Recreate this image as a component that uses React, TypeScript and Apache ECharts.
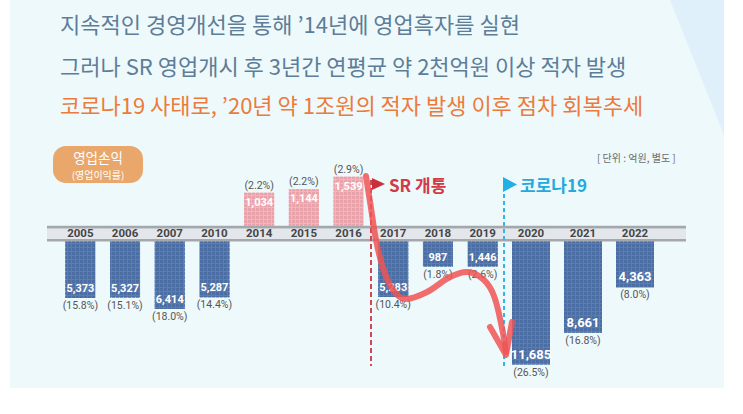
import React, { useEffect, useRef } from "react";
import * as echarts from "echarts";

// ---- data ----
const years = ["2005", "2006", "2007", "2010", "2014", "2015", "2016", "2017", "2018", "2019", "2020", "2021", "2022"];
// operating profit / loss (억원), negative = loss
const profit = [-5373, -5327, -6414, -5287, 1034, 1144, 1539, -5283, -987, -1446, -11685, -8661, -4363];
// operating margin (%)
const marginPct = [-15.8, -15.1, -18.0, -14.4, 2.2, 2.2, 2.9, -10.4, -1.8, -2.6, -26.5, -16.8, -8.0];

const titleLines = [
  "지속적인 경영개선을 통해 ’14년에 영업흑자를 실현",
  "그러나 SR 영업개시 후 3년간 연평균 약 2천억원 이상 적자 발생",
  "코로나19 사태로, ’20년 약 1조원의 적자 발생 이후 점차 회복추세",
];
const legendTitle = "영업손익";
const legendSub = "(영업이익률)";
const unitText = "[ 단위 : 억원, 별도 ]";
const srLabel = "SR 개통";
const covidLabel = "코로나19";

const SPLIT = 10; // first group (narrow columns) vs second group (wide columns)

const KR = "'Noto Sans CJK KR', 'Noto Sans', sans-serif";
const NUM = "Roboto, 'Noto Sans', sans-serif";

const fmtVal = (v: number) => Math.abs(v).toLocaleString("en-US");
const fmtPct = (i: number) => "(" + Math.abs(marginPct[i]).toFixed(1) + "%)";

export default function App() {
  const ref = useRef<HTMLDivElement>(null);

  useEffect(() => {
    if (!ref.current) return;
    const chart = echarts.init(ref.current, undefined, { renderer: "svg" });

    const posData = profit.slice(0, SPLIT).map((v) => (v > 0 ? v : "-"));
    const negL = profit.slice(0, SPLIT).map((v) => (v < 0 ? v : "-"));
    const negR = profit.slice(SPLIT).map((v) => (v < 0 ? v : "-"));

    const blueStyle = {
      color: "#5a7eb4",
      decal: { symbol: "rect", symbolSize: 1, dashArrayX: [3, 1], dashArrayY: [3, 1], color: "#4b6ea5" },
    };
    const pinkStyle = {
      color: "#efb6bc",
      decal: { symbol: "rect", symbolSize: 1, dashArrayX: [3, 1], dashArrayY: [3, 1], color: "#e9a2a9" },
    };

    const valLabel = (pos: string, size: number) => ({
      show: true,
      position: pos,
      distance: 4,
      color: "#ffffff",
      fontFamily: NUM,
      fontWeight: "bold",
      fontSize: size,
      formatter: (p: any) => fmtVal(p.value),
    });
    const pctLabel = (pos: string, offsetIdx: number) => ({
      show: true,
      position: pos,
      distance: 2,
      color: "#555555",
      fontFamily: NUM,
      fontSize: 10.5,
      formatter: (p: any) => fmtPct(p.dataIndex + offsetIdx),
    });

    const axisLabelStyle = {
      margin: 3,
      color: "#454545",
      fontFamily: NUM,
      fontWeight: "bold",
      fontSize: 11.5,
    };

    const option: any = {
      animation: false,
      backgroundColor: "#ffffff",
      grid: [
        { left: 58, top: 176, width: 447, height: 50 },
        { left: 58, top: 241.5, width: 447, height: 130 },
        { left: 505, top: 241.5, width: 156, height: 130 },
      ],
      xAxis: [
        { gridIndex: 0, type: "category", data: years.slice(0, SPLIT), show: false },
        {
          gridIndex: 1,
          type: "category",
          data: years.slice(0, SPLIT),
          position: "top",
          axisLine: { show: false },
          axisTick: { show: false },
          axisLabel: axisLabelStyle,
        },
        {
          gridIndex: 2,
          type: "category",
          data: years.slice(SPLIT),
          position: "top",
          axisLine: { show: false },
          axisTick: { show: false },
          axisLabel: axisLabelStyle,
        },
      ],
      yAxis: [
        { gridIndex: 0, type: "value", min: 0, max: 1560, show: false },
        { gridIndex: 1, type: "value", min: -12350, max: 0, show: false },
        { gridIndex: 2, type: "value", min: -12350, max: 0, show: false },
      ],
      series: [
        {
          type: "bar",
          xAxisIndex: 0,
          yAxisIndex: 0,
          data: posData,
          barWidth: 30,
          barGap: "-100%",
          itemStyle: pinkStyle,
          label: valLabel("insideTop", 11),
          z: 3,
        },
        {
          type: "bar",
          xAxisIndex: 0,
          yAxisIndex: 0,
          data: posData,
          barWidth: 30,
          barGap: "-100%",
          itemStyle: { color: "rgba(0,0,0,0)" },
          label: pctLabel("top", 0),
          z: 4,
        },
        {
          type: "bar",
          xAxisIndex: 1,
          yAxisIndex: 1,
          data: negL,
          barWidth: 30,
          barGap: "-100%",
          barMinHeight: 25,
          itemStyle: blueStyle,
          label: valLabel("insideBottom", 11),
          z: 3,
        },
        {
          type: "bar",
          xAxisIndex: 1,
          yAxisIndex: 1,
          data: negL,
          barWidth: 30,
          barGap: "-100%",
          barMinHeight: 25,
          itemStyle: { color: "rgba(0,0,0,0)" },
          label: pctLabel("bottom", 0),
          z: 4,
        },
        {
          type: "bar",
          xAxisIndex: 2,
          yAxisIndex: 2,
          data: negR,
          barWidth: 38,
          barGap: "-100%",
          itemStyle: blueStyle,
          label: valLabel("insideBottom", 13),
          z: 3,
        },
        {
          type: "bar",
          xAxisIndex: 2,
          yAxisIndex: 2,
          data: negR,
          barWidth: 38,
          barGap: "-100%",
          itemStyle: { color: "rgba(0,0,0,0)" },
          label: pctLabel("bottom", SPLIT),
          z: 4,
        },
      ],
      graphic: [
        // panel background
        { type: "rect", z: -20, shape: { x: 10, y: 0, width: 714, height: 388 }, style: { fill: "#eef9fc" } },
        {
          type: "polygon",
          z: -19,
          shape: { points: [[670, 0], [724, 0], [724, 135]] },
          style: { fill: "#e0f0fa" },
        },
        // axis band
        { type: "rect", z: -5, shape: { x: 47, y: 228.5, width: 639, height: 10.5 }, style: { fill: "#e3e7eb" } },
        { type: "rect", z: -4, shape: { x: 47, y: 225.8, width: 639, height: 2.7 }, style: { fill: "#a4a8ac" } },
        { type: "rect", z: -4, shape: { x: 47, y: 239, width: 639, height: 2.5 }, style: { fill: "#a4a8ac" } },
        // titles
        ...titleLines.map((t, i) => ({
          type: "text",
          x: 60,
          y: [23, 65, 104][i],
          style: {
            text: t,
            fill: i === 2 ? "#ec7b3b" : "#5d7d98",
            fontSize: 22,
            fontFamily: KR,
            align: "left",
            verticalAlign: "middle",
          },
        })),
        // legend badge
        { type: "rect", shape: { x: 53, y: 146, width: 90, height: 37, r: 13 }, style: { fill: "#e9a76c" } },
        {
          type: "text",
          x: 98,
          y: 156.5,
          style: { text: legendTitle, fill: "#ffffff", fontSize: 13.5, fontFamily: KR, align: "center", verticalAlign: "middle" },
        },
        {
          type: "text",
          x: 98,
          y: 174,
          style: { text: legendSub, fill: "#ffffff", fontSize: 10, fontFamily: KR, align: "center", verticalAlign: "middle" },
        },
        // unit
        {
          type: "text",
          x: 597,
          y: 157,
          style: { text: unitText, fill: "#6a6a6a", fontSize: 10, fontFamily: KR, align: "left", verticalAlign: "middle" },
        },
        // SR opening marker
        {
          type: "line",
          z: 10,
          shape: { x1: 371, y1: 180, x2: 371, y2: 366 },
          style: { stroke: "#c94a55", lineWidth: 2, lineDash: [5, 3] },
        },
        { type: "polygon", z: 11, shape: { points: [[372, 178], [385, 184], [372, 190]] }, style: { fill: "#c9303c" } },
        {
          type: "text",
          z: 11,
          x: 389,
          y: 184,
          style: { text: srLabel, fill: "#d23a45", fontSize: 17, fontWeight: "bold", fontFamily: KR, align: "left", verticalAlign: "middle" },
        },
        // COVID marker
        {
          type: "line",
          z: 10,
          shape: { x1: 504, y1: 180, x2: 504, y2: 366 },
          style: { stroke: "#35b6e6", lineWidth: 2, lineDash: [4, 3] },
        },
        { type: "polygon", z: 11, shape: { points: [[503, 177], [517, 184.5], [503, 192]] }, style: { fill: "#1fb0e6" } },
        {
          type: "text",
          z: 11,
          x: 520,
          y: 184,
          style: { text: covidLabel, fill: "#25a9dc", fontSize: 17, fontWeight: "bold", fontFamily: KR, align: "left", verticalAlign: "middle" },
        },
        // trend arrow
        {
          type: "polyline",
          z: 20,
          shape: {
            points: [
              [366, 176],
              [371, 208],
              [376, 240],
              [383, 268],
              [393, 290],
              [405, 299],
              [427, 292],
              [450, 277],
              [468, 272],
              [484, 280],
              [494, 296],
              [502, 328],
              [506, 352],
            ],
            smooth: 0.35,
          },
          style: { stroke: "rgba(240,84,84,0.85)", lineWidth: 6, lineCap: "round", fill: "none" },
        },
        {
          type: "polyline",
          z: 20,
          shape: { points: [[490, 327], [506, 355], [512, 322]] },
          style: { stroke: "rgba(240,84,84,0.85)", lineWidth: 6, lineCap: "round", lineJoin: "round", fill: "none" },
        },
      ],
    };

    chart.setOption(option);
    return () => chart.dispose();
  }, []);

  return <div ref={ref} style={{ position: "fixed", left: 0, top: 0, width: 743, height: 414 }} />;
}
